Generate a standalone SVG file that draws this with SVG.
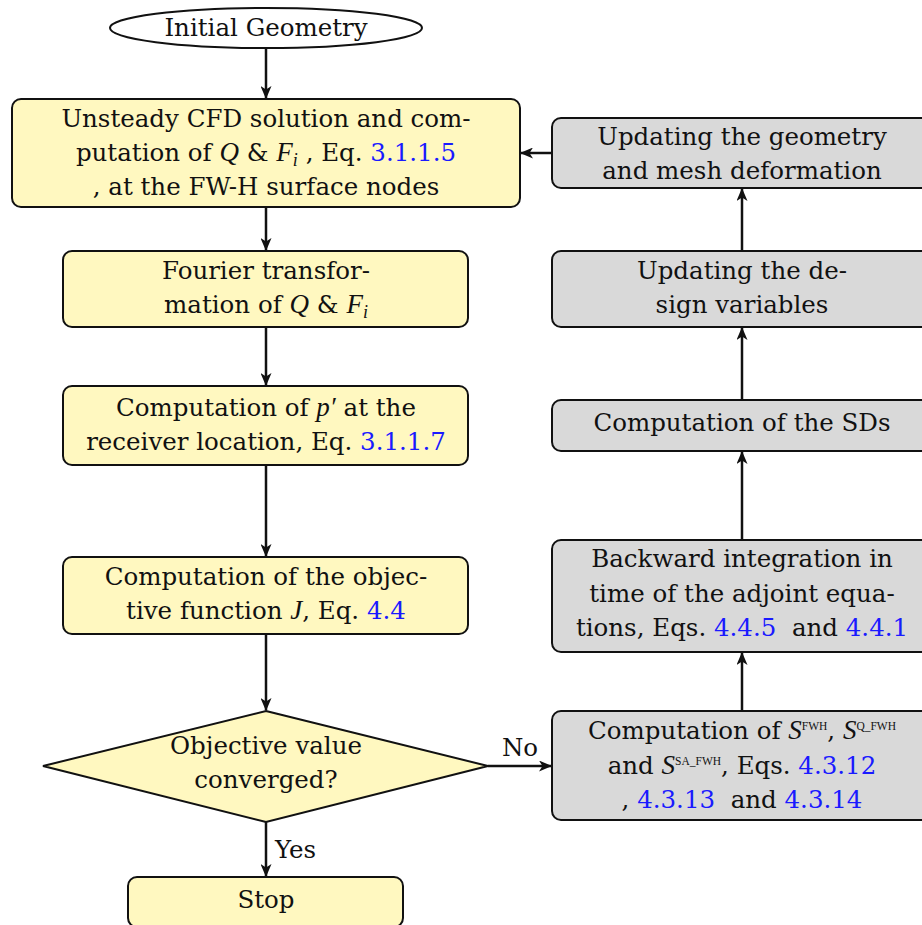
<svg xmlns="http://www.w3.org/2000/svg" width="922" height="925" viewBox="0 0 922 925">
<style>
text{font-family:"DejaVu Serif","Liberation Serif",serif;font-size:24.5px;fill:#111;text-anchor:middle;white-space:pre}
.y{fill:#fff8c0;stroke:#111;stroke-width:2}
.g{fill:#d9d9d9;stroke:#111;stroke-width:2}
.m{font-family:"Liberation Serif",serif;font-style:italic;font-size:27px}
.s{font-family:"Liberation Serif",serif;font-style:italic;font-size:18px}
.sup{font-family:"Liberation Serif",serif;font-size:11.5px}
.b{fill:#1a1aff}
.c{stroke:#111;stroke-width:2.5;fill:none}
.l{text-anchor:start}
</style>
<defs>
<marker id="a" viewBox="0 0 13 11" refX="12" refY="5.5" markerWidth="13" markerHeight="11" markerUnits="userSpaceOnUse" orient="auto">
<path d="M0,0 L13,5.5 L0,11 L3.5,5.5 Z" fill="#111"/>
</marker>
</defs>
<g id="connectors">
<line class="c" x1="266" y1="48" x2="266" y2="98" marker-end="url(#a)"/>
<line class="c" x1="266" y1="207" x2="266" y2="250" marker-end="url(#a)"/>
<line class="c" x1="266" y1="327" x2="266" y2="385" marker-end="url(#a)"/>
<line class="c" x1="266" y1="465" x2="266" y2="556" marker-end="url(#a)"/>
<line class="c" x1="266" y1="634" x2="266" y2="710" marker-end="url(#a)"/>
<line class="c" x1="266" y1="822" x2="266" y2="876" marker-end="url(#a)"/>
<line class="c" x1="488" y1="766" x2="551" y2="766" marker-end="url(#a)"/>
<line class="c" x1="742" y1="711" x2="742" y2="653" marker-end="url(#a)"/>
<line class="c" x1="742" y1="540" x2="742" y2="452" marker-end="url(#a)"/>
<line class="c" x1="742" y1="400" x2="742" y2="328" marker-end="url(#a)"/>
<line class="c" x1="742" y1="251" x2="742" y2="189" marker-end="url(#a)"/>
<line class="c" x1="552" y1="153" x2="521" y2="153" marker-end="url(#a)"/>
<text x="520" y="756">No</text>
<text class="l" x="275" y="858">Yes</text>
</g>
<g id="start">
<ellipse cx="266" cy="28" rx="156" ry="20" fill="#fff" stroke="#111" stroke-width="2"/>
<text x="266" y="36">Initial Geometry</text>
</g>
<g id="cfd">
<rect class="y" x="12" y="99" width="508" height="108" rx="9"/>
<text x="266" y="127">Unsteady CFD solution and com-</text>
<text x="266" y="161">putation of <tspan class="m">Q</tspan> &amp; <tspan class="m">F</tspan><tspan class="s" dy="5">i</tspan><tspan dy="-5"> , Eq. </tspan><tspan class="b">3.1.1.5</tspan></text>
<text x="266" y="195">, at the FW-H surface nodes</text>
</g>
<g id="fourier">
<rect class="y" x="63" y="251" width="405" height="76" rx="9"/>
<text x="266" y="279">Fourier transfor-</text>
<text x="266" y="313">mation of <tspan class="m">Q</tspan> &amp; <tspan class="m">F</tspan><tspan class="s" dy="5">i</tspan></text>
</g>
<g id="pressure">
<rect class="y" x="63" y="386" width="405" height="79" rx="9"/>
<text x="266" y="416">Computation of <tspan class="m">p′</tspan> at the</text>
<text x="266" y="450">receiver location, Eq. <tspan class="b">3.1.1.7</tspan></text>
</g>
<g id="objective">
<rect class="y" x="63" y="557" width="405" height="77" rx="9"/>
<text x="266" y="585">Computation of the objec-</text>
<text x="266" y="619">tive function <tspan class="m">J</tspan>, Eq. <tspan class="b">4.4</tspan></text>
</g>
<g id="decision">
<polygon class="y" points="266,711 488,766 266,822 43,766"/>
<text x="266" y="754">Objective value</text>
<text x="266" y="788">converged?</text>
</g>
<g id="stop">
<rect class="y" x="128" y="877" width="275" height="50" rx="9"/>
<text x="266" y="908">Stop</text>
</g>
<g id="update-geometry">
<rect class="g" x="552" y="118" width="380" height="70" rx="9"/>
<text x="742" y="145">Updating the geometry</text>
<text x="742" y="179">and mesh deformation</text>
</g>
<g id="update-design">
<rect class="g" x="552" y="251" width="380" height="76" rx="9"/>
<text x="742" y="279">Updating the de-</text>
<text x="742" y="313">sign variables</text>
</g>
<g id="sds">
<rect class="g" x="552" y="400" width="380" height="51" rx="9"/>
<text x="742" y="431">Computation of the SDs</text>
</g>
<g id="adjoint">
<rect class="g" x="552" y="540" width="380" height="112" rx="9"/>
<text x="742" y="567">Backward integration in</text>
<text x="742" y="602">time of the adjoint equa-</text>
<text x="742" y="636">tions, Eqs. <tspan class="b">4.4.5</tspan>  and <tspan class="b">4.4.1</tspan></text>
</g>
<g id="sensitivities">
<rect class="g" x="552" y="711" width="380" height="109" rx="9"/>
<text x="742" y="739">Computation of <tspan class="m">S</tspan><tspan class="sup" dy="-9">FWH</tspan><tspan dy="9">, </tspan><tspan class="m">S</tspan><tspan class="sup" dy="-9">Q_FWH</tspan></text>
<text x="742" y="774">and <tspan class="m">S</tspan><tspan class="sup" dy="-9">SA_FWH</tspan><tspan dy="9">, Eqs. </tspan><tspan class="b">4.3.12</tspan></text>
<text x="742" y="808">, <tspan class="b">4.3.13</tspan>  and <tspan class="b">4.3.14</tspan></text>
</g>
</svg>
